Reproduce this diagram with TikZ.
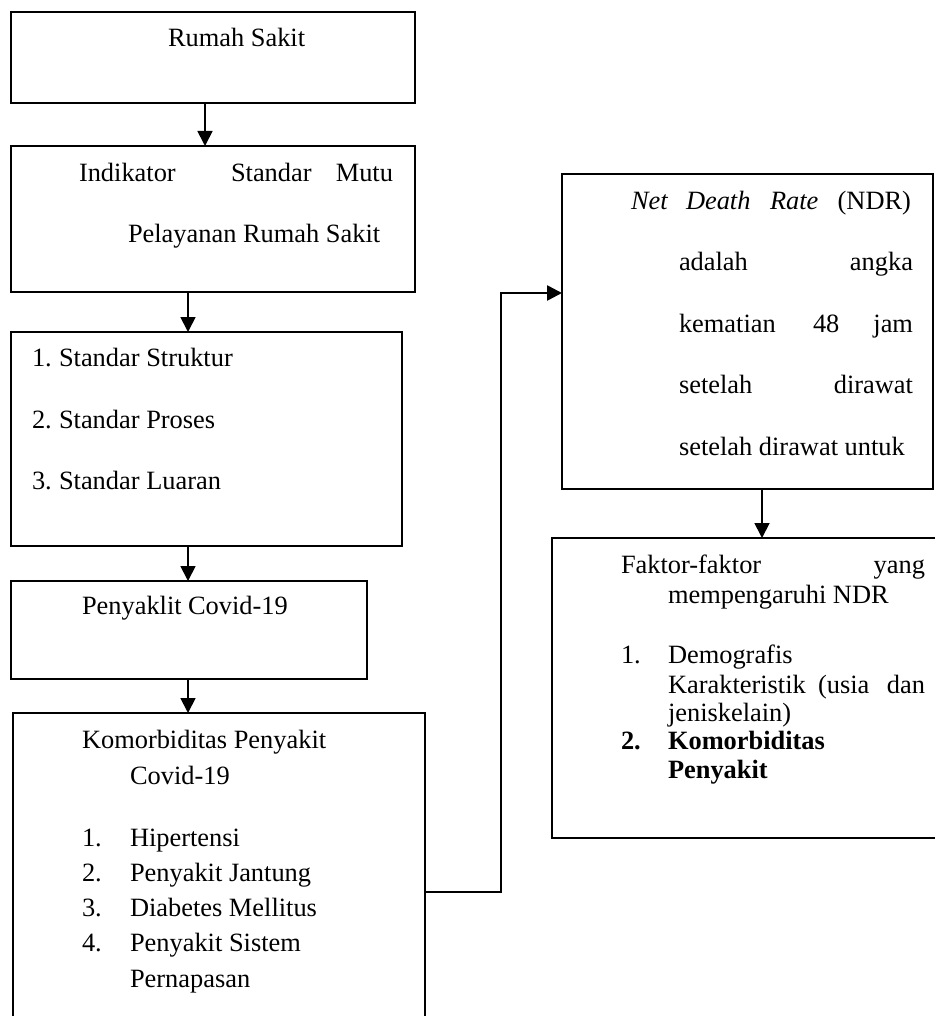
\documentclass[tikz,border=0pt]{standalone}
\usepackage{fontspec}
\setmainfont{Liberation Serif}
\usetikzlibrary{arrows.meta}
\newcommand\fsz{\fontsize{26.4pt}{30pt}\selectfont}
\begin{document}
\begin{tikzpicture}[x=1pt,y=-1pt,
  box/.style={draw, line width=1.8pt, anchor=north west, inner sep=0pt, outer sep=0pt},
  t/.style={anchor=base west, inner sep=0pt, outer sep=0pt, font=\fsz},
  tr/.style={anchor=base east, inner sep=0pt, outer sep=0pt, font=\fsz},
  arr/.style={line width=1.8pt, -{Triangle[length=15pt,width=15pt]}},
]
\useasboundingbox (0,0) rectangle (934,1016);
% boxes
\node[box, minimum width=404pt, minimum height=91pt]  (b1) at (11,12) {};
\node[box, minimum width=404pt, minimum height=146pt] (b2) at (11,146) {};
\node[box, minimum width=391pt, minimum height=214pt] (b3) at (11,332) {};
\node[box, minimum width=356pt, minimum height=98pt]  (b4) at (11,581) {};
\node[box, minimum width=412pt, minimum height=330pt] (b5) at (13,713) {};
\node[box, minimum width=371pt, minimum height=315pt] (b6) at (562,174) {};
\node[box, minimum width=400pt, minimum height=300pt] (b7) at (552,538) {};
% helper coordinates
\coordinate (xa) at (205,0);
\coordinate (xb) at (188,0);
\coordinate (xc) at (762,0);
\coordinate (xd) at (501,0);
\coordinate (ya) at (0,892);
\coordinate (yb) at (0,293);
% arrows
\draw[arr] (b1.south -| xa) -- (b2.north -| xa);
\draw[arr] (b2.south -| xb) -- (b3.north -| xb);
\draw[arr] (b3.south -| xb) -- (b4.north -| xb);
\draw[arr] (b4.south -| xb) -- (b5.north -| xb);
\draw[arr] (b6.south -| xc) -- (b7.north -| xc);
\draw[arr, line width=2.6pt] (b5.east |- ya) -| (xd |- yb) -- (b6.west |- yb);
% texts box 1
\node[t] (t1) at (168,47) {Rumah Sakit};
% box 2
\node[t] (t2a) at (79,182) {Indikator};
\node[t] (t2b) at (231,182) {Standar};
\node[tr] (t2c) at (393,182) {Mutu};
\node[t] (t2d) at (128,242) {Pelayanan Rumah Sakit};
% box 3
\node[t] (t3a) at (32,366) {1.};
\node[t] (t3b) at (59,366) {Standar Struktur};
\node[t] (t3c) at (32,428) {2.};
\node[t] (t3d) at (59,428) {Standar Proses};
\node[t] (t3e) at (32,489) {3.};
\node[t] (t3f) at (59,489) {Standar Luaran};
% box 4
\node[t] (t4a) at (82,614) {Penyaklit};
\node[t] (t4b) at (188,614) {Covid-19};
% box 5
\node[t] (t5a) at (82,748) {Komorbiditas Penyakit};
\node[t] (t5b) at (130,784) {Covid-19};
\node[t] (t5c) at (82,846) {1.};
\node[t] (t5d) at (130,846) {Hipertensi};
\node[t] (t5e) at (82,881) {2.};
\node[t] (t5f) at (130,881) {Penyakit Jantung};
\node[t] (t5g) at (82,916) {3.};
\node[t] (t5h) at (130,916) {Diabetes Mellitus};
\node[t] (t5i) at (82,951) {4.};
\node[t] (t5j) at (130,951) {Penyakit Sistem};
\node[t] (t5k) at (130,987) {Pernapasan};
% box 6
\node[t] (t6a) at (631,210) {\itshape Net};
\node[t] (t6b) at (686,210) {\itshape Death};
\node[t] (t6c) at (770,210) {\itshape Rate};
\node[tr] (t6d) at (911,210) {(NDR)};
\node[t] (t6e) at (679,270) {adalah};
\node[tr] (t6f) at (913,270) {angka};
\node[t] (t6g) at (679,332) {kematian};
\node[t] (t6h) at (813,332) {48};
\node[tr] (t6i) at (913,332) {jam};
\node[t] (t6j) at (679,393) {setelah};
\node[tr] (t6k) at (913,393) {dirawat};
\node[t] (t6l) at (679,455) {setelah dirawat untuk};
% box 7
\node[t] (t7a) at (621,573) {Faktor-faktor};
\node[tr] (t7b) at (925,573) {yang};
\node[t] (t7c) at (668,603) {mempengaruhi NDR};
\node[t] (t7d) at (621,663) {1.};
\node[t] (t7e) at (668,663) {Demografis};
\node[t] (t7f) at (668,693) {Karakteristik};
\node[t] (t7g) at (818,693) {(usia};
\node[tr] (t7h) at (925,693) {dan};
\node[t] (t7i) at (668,721) {jeniskelain)};
\node[t] (t7j) at (621,749) {\bfseries 2.};
\node[t] (t7k) at (668,749) {\bfseries Komorbiditas};
\node[t] (t7l) at (668,778) {\bfseries Penyakit};
\end{tikzpicture}
\end{document}
